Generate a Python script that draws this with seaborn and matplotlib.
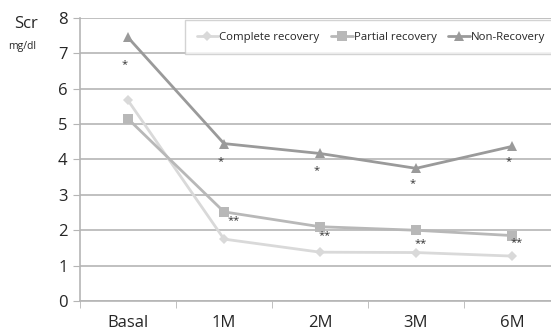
import numpy as np
import pandas as pd
import matplotlib.pyplot as plt
import seaborn as sns

months = ["Basal", "1M", "2M", "3M", "6M"]
complete = [5.67, 1.75, 1.38, 1.37, 1.27]
partial = [5.15, 2.52, 2.10, 2.00, 1.85]
non_rec = [7.45, 4.45, 4.17, 3.75, 4.37]
star_y = [6.67, 3.93, 3.70, 3.33, 3.93]
dstar_y = [2.26, 1.84, 1.61, 1.64]

df = pd.DataFrame({
    "Month": months * 3,
    "Scr": complete + partial + non_rec,
    "Group": ["Complete recovery"] * 5 + ["Partial recovery"] * 5 + ["Non-Recovery"] * 5,
})

sns.set_style("white")
plt.rcParams['font.family'] = ['Open Sans', 'DejaVu Sans']

fig = plt.figure(figsize=(5.51, 3.33), dpi=100)
ax = fig.add_axes([80 / 551, 32 / 333, 480 / 551, 283 / 333])

colors = {"Complete recovery": "#d9d9d9", "Partial recovery": "#b8b8b8", "Non-Recovery": "#9a9a9a"}
markers = {"Complete recovery": "D", "Partial recovery": "s", "Non-Recovery": "^"}
sizes = {"Complete recovery": 5, "Partial recovery": 7, "Non-Recovery": 7}
for g in ["Complete recovery", "Partial recovery", "Non-Recovery"]:
    sub = df[df["Group"] == g]
    sns.lineplot(data=sub, x="Month", y="Scr", ax=ax, color=colors[g], marker=markers[g],
                 markersize=sizes[g], markeredgewidth=0, linewidth=2, label=g, sort=False)

x = np.arange(5)
for xi, yi in zip(x, star_y):
    ax.text(xi - 0.04, yi, "*", ha="center", va="center", fontsize=8, color="#333333")
for xi, yi in zip(x[1:], dstar_y):
    ax.text(xi + 0.1 if xi == 1 else xi + 0.05, yi, "**", ha="center", va="center", fontsize=8, color="#333333")

ax.set_xlim(-0.5, 4.5)
ax.set_ylim(0, 8)
ax.set_yticks(range(9))
ax.yaxis.grid(True, color="#b5b5b5", linewidth=1.2)
ax.set_xticks(x)
ax.set_xticklabels(months, fontsize=12)
ax.set_xticks(np.arange(-0.5, 5, 1), minor=True)
ax.tick_params(axis="x", which="major", length=0, pad=10)
ax.tick_params(axis="x", which="minor", length=5, color="#b5b5b5", direction="out")
ax.tick_params(axis="y", labelsize=12, length=5, color="#b5b5b5", direction="out", pad=4)
ax.yaxis.set_ticks_position("left")
ax.xaxis.set_ticks_position("bottom")
for s in ["top", "right"]:
    ax.spines[s].set_visible(False)
for s in ["left", "bottom"]:
    ax.spines[s].set_color("#b5b5b5")
    ax.spines[s].set_linewidth(1.2)
ax.set_xlabel("")
ax.set_ylabel("")

fig.text(14 / 551, 1 - 24 / 333, "Scr", fontsize=12, va="center", ha="left")
fig.text(8 / 551, 1 - 46 / 333, "mg/dl", fontsize=7.5, va="center", ha="left")

leg = ax.legend(loc="upper left", bbox_to_anchor=(103 / 480, 1.0), ncol=3, frameon=True,
                fontsize=8.2, handlelength=1.9, handletextpad=0.1, columnspacing=1.0,
                fancybox=False, borderpad=1.0, borderaxespad=0.2)
leg.get_frame().set_edgecolor("#c8c8c8")

fig.savefig("out.png", dpi=100)
